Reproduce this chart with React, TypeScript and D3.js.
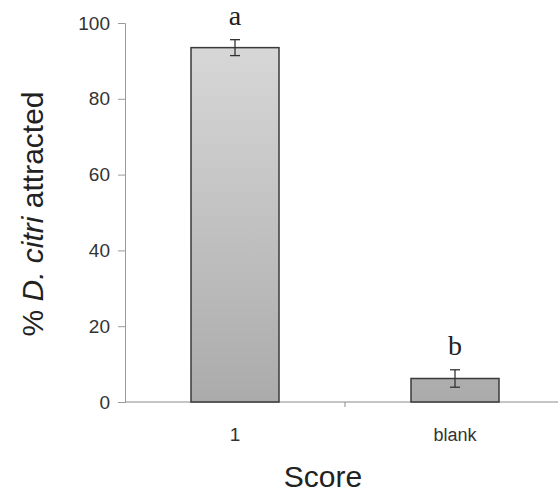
import React, { useEffect, useRef } from 'react';
import * as d3 from 'd3';

// values
const categories = ['1', 'blank'];
const means = [93.5, 6.2];
const errors = [2.1, 2.3];
const letters = ['a', 'b'];
const yTicks = [0, 20, 40, 60, 80, 100];

const W = 558;
const H = 496;

const App = () => {
  const svgRef = useRef<SVGSVGElement | null>(null);

  useEffect(() => {
    const svg = d3.select(svgRef.current);
    svg.selectAll('*').remove();

    const left = 125;
    const y0 = 402; // pixel of 0 %
    const y100 = 23; // pixel of 100 %

    const x = d3.scaleBand<string>()
      .domain(categories)
      .range([left, 565])
      .paddingInner(0.6)
      .paddingOuter(0.3);

    const y = d3.scaleLinear().domain([0, 100]).range([y0, y100]);

    svg.append('rect').attr('width', W).attr('height', H).attr('fill', '#fff');

    // gradient for the bars (lighter at the top, darker at the bottom)
    const grad = svg.append('defs').append('linearGradient')
      .attr('id', 'barGrad')
      .attr('gradientUnits', 'userSpaceOnUse')
      .attr('x1', 0).attr('x2', 0)
      .attr('y1', y100).attr('y2', y0);
    grad.append('stop').attr('offset', '0%').attr('stop-color', '#dadada');
    grad.append('stop').attr('offset', '100%').attr('stop-color', '#ababab');

    // y axis
    const yAxis = svg.append('g')
      .attr('transform', `translate(${left},0)`)
      .call(d3.axisLeft(y).tickValues(yTicks).tickSize(7).tickPadding(8));
    yAxis.select('.domain').attr('stroke', '#9a9a9a');
    yAxis.selectAll('.tick line').attr('stroke', '#9a9a9a');
    yAxis.selectAll('.tick text')
      .attr('fill', '#333')
      .style('font-family', 'Liberation Sans, Arial, sans-serif')
      .style('font-size', '19px');

    // x axis line with ticks at category boundaries
    svg.append('line')
      .attr('x1', left).attr('x2', W)
      .attr('y1', y0).attr('y2', y0)
      .attr('stroke', '#8a8a8a');
    const boundary = x(categories[1])! - (x.step() * x.paddingInner()) / 2;
    svg.append('line')
      .attr('x1', boundary).attr('x2', boundary)
      .attr('y1', y0).attr('y2', y0 + 5)
      .attr('stroke', '#8a8a8a');

    // bars
    svg.selectAll('rect.bar')
      .data(categories)
      .enter()
      .append('rect')
      .attr('class', 'bar')
      .attr('x', d => x(d)!)
      .attr('y', (d, i) => y(means[i]))
      .attr('width', x.bandwidth())
      .attr('height', (d, i) => y0 - y(means[i]))
      .attr('fill', 'url(#barGrad)')
      .attr('stroke', '#3a3a3a')
      .attr('stroke-width', 1.5);

    // error bars
    const eb = svg.selectAll('g.err')
      .data(categories)
      .enter()
      .append('g')
      .attr('class', 'err')
      .attr('stroke', '#333')
      .attr('stroke-width', 1.3);
    eb.append('line')
      .attr('x1', d => x(d)! + x.bandwidth() / 2)
      .attr('x2', d => x(d)! + x.bandwidth() / 2)
      .attr('y1', (d, i) => y(means[i] + errors[i]))
      .attr('y2', (d, i) => y(means[i] - errors[i]));
    eb.append('line')
      .attr('x1', d => x(d)! + x.bandwidth() / 2 - 5)
      .attr('x2', d => x(d)! + x.bandwidth() / 2 + 5)
      .attr('y1', (d, i) => y(means[i] + errors[i]))
      .attr('y2', (d, i) => y(means[i] + errors[i]));
    eb.append('line')
      .attr('x1', d => x(d)! + x.bandwidth() / 2 - 5)
      .attr('x2', d => x(d)! + x.bandwidth() / 2 + 5)
      .attr('y1', (d, i) => y(means[i] - errors[i]))
      .attr('y2', (d, i) => y(means[i] - errors[i]));

    // significance letters
    svg.selectAll('text.letter')
      .data(letters)
      .enter()
      .append('text')
      .attr('class', 'letter')
      .attr('x', (d, i) => x(categories[i])! + x.bandwidth() / 2)
      .attr('y', (d, i) => y(means[i] + errors[i]) - 15)
      .attr('text-anchor', 'middle')
      .attr('fill', '#222')
      .style('font-family', 'Liberation Serif, Times New Roman, serif')
      .style('font-size', '28px')
      .text(d => d);

    // category labels
    svg.selectAll('text.cat')
      .data(categories)
      .enter()
      .append('text')
      .attr('class', 'cat')
      .attr('x', d => x(d)! + x.bandwidth() / 2)
      .attr('y', y0 + 39)
      .attr('text-anchor', 'middle')
      .attr('fill', '#333')
      .style('font-family', 'Liberation Sans, Arial, sans-serif')
      .style('font-size', (d, i) => (i === 0 ? '19px' : '18px'))
      .text(d => d);

    // axis titles
    svg.append('text')
      .attr('x', 323)
      .attr('y', 487)
      .attr('text-anchor', 'middle')
      .attr('fill', '#222')
      .style('font-family', 'Liberation Sans, Arial, sans-serif')
      .style('font-size', '30px')
      .text('Score');

    const yt = svg.append('text')
      .attr('transform', `translate(43,${(88 + 340) / 2}) rotate(-90)`)
      .attr('text-anchor', 'middle')
      .attr('fill', '#222')
      .style('font-family', 'Liberation Sans, Arial, sans-serif')
      .style('font-size', '30px');
    yt.append('tspan').text('% ');
    yt.append('tspan').style('font-style', 'italic').text('D. citri');
    yt.append('tspan').text(' attracted');
  }, []);

  return (
    <svg
      ref={svgRef}
      width={W}
      height={H}
      style={{ position: 'absolute', left: 0, top: 0, display: 'block' }}
    ></svg>
  );
};

export default App;
